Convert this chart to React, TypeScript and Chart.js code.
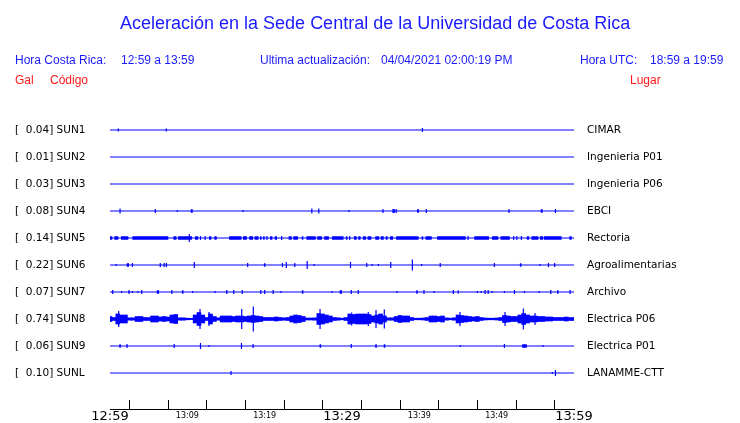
import React, { useEffect, useRef } from "react";
import { Chart, registerables } from "chart.js";

Chart.register(...registerables);

// ---------- data ----------
const STATION_CODES = ["SUN1", "SUN2", "SUN3", "SUN4", "SUN5", "SUN6", "SUN7", "SUN8", "SUN9", "SUNL"];
const PEAK_GAL = [0.04, 0.01, 0.03, 0.08, 0.14, 0.22, 0.07, 0.74, 0.06, 0.1];
const STATION_PLACES = [
  "CIMAR",
  "Ingenieria P01",
  "Ingenieria P06",
  "EBCI",
  "Rectoria",
  "Agroalimentarias",
  "Archivo",
  "Electrica P06",
  "Electrica P01",
  "LANAMME-CTT",
];

// minutes after 12:59
const MINUTE_TICKS = [0, 5, 10, 15, 20, 25, 30, 35, 40, 45, 50, 55, 60];
const MINUTE_TICK_LABELS = ["12:59", "", "13:09", "", "13:19", "", "13:29", "", "13:39", "", "13:49", "", "13:59"];
const MAJOR_TICK_LABELS = ["12:59", "13:29", "13:59"];

// amplitudes are expressed in 1/27 of the spacing between traces
const TRACK_UNITS = 27;

// spikes: [minute, amplitude]
const SPIKES_SUN1 = [[1.07, 1.5], [7.28, 1.5], [40.4, 2]];
const SPIKES_SUN2: number[][] = [];
const SPIKES_SUN3: number[][] = [];
const SPIKES_SUN4 = [
  [1.3, 2.5], [5.86, 2], [8.7, 1], [17.2, 1], [26.1, 2.5], [27.0, 2.5], [30.9, 1], [35.3, 2],
  [36.6, 2], [36.75, 2], [37.0, 2], [40.9, 2], [51.6, 2], [57.6, 2],
];
const SPIKES_SUN5 = [
  [10.25, 4], [11.7, 2], [12.3, 2], [20.3, 2], [22.2, 2], [31.0, 2], [46.3, 2], [52.2, 2], [52.6, 2], [53.2, 2],
];
const SPIKES_SUN6 = [
  [0.8, 1], [2.9, 2], [6.5, 2], [7.0, 2], [7.3, 2], [10.9, 3], [17.8, 2], [22.3, 2], [22.8, 3], [23.9, 2],
  [25.5, 4], [26.4, 1], [31.1, 3], [33.2, 2], [33.9, 1], [34.7, 1], [36.3, 3], [39.1, 5.5], [40.3, 1],
  [42.7, 2], [49.7, 2], [55.6, 1], [56.7, 2], [57.5, 2],
];
const SPIKES_SUN7 = [
  [0.35, 2], [1.5, 1], [2.9, 1], [3.6, 1], [4.1, 2], [8.0, 2], [10.7, 1], [13.6, 1], [16.0, 2], [17.1, 2],
  [19.5, 2], [20.0, 2], [21.1, 2], [22.1, 1], [28.7, 1], [31.2, 2], [32.1, 2], [37.1, 1], [40.6, 2], [41.9, 1],
  [44.4, 2], [47.5, 1], [48.0, 1], [48.5, 2], [48.9, 2], [49.4, 1], [51.0, 1], [52.3, 2], [53.6, 1], [55.5, 1],
  [57.0, 2], [59.5, 2],
];
const SPIKES_SUN8 = [
  [1.12, 8], [11.64, 10], [12.8, 7], [17.03, 10], [18.53, 12.5], [27.16, 10], [31.25, 6.5], [33.4, 7],
  [34.4, 9], [35.47, 9.5], [45.26, 7], [51.08, 7], [53.45, 10.5], [54.96, 6],
];
const SPIKES_SUN9 = [
  [2.2, 2], [8.3, 2], [11.7, 3], [12.8, 1], [17.0, 3], [18.5, 2], [31.2, 2], [45.3, 1], [51.0, 2], [56.0, 1],
];
const SPIKES_SUNL = [[15.65, 2], [57.2, 1], [57.6, 3]];

// blocks of continuous small shaking: [start minute, end minute]
const BLOCKS_SUN1: number[][] = [];
const BLOCKS_SUN2: number[][] = [];
const BLOCKS_SUN3: number[][] = [];
const BLOCKS_SUN4 = [[10.45, 10.7], [39.7, 39.95], [55.7, 55.95]];
const BLOCKS_SUN5 = [
  [0, 0.3], [0.56, 1.08], [1.42, 2.37], [2.89, 7.54], [8.2, 8.6], [8.8, 10.6], [11.0, 11.4], [12.8, 13.1],
  [13.5, 13.8], [15.4, 17.0], [17.2, 17.7], [18.0, 18.5], [18.7, 19.2], [19.4, 19.6], [19.8, 20.0],
  [20.7, 21.0], [21.3, 21.6], [23.1, 23.5], [23.7, 24.3], [24.8, 25.0], [25.4, 26.6], [26.8, 27.4],
  [27.7, 28.3], [28.7, 30.2], [30.5, 30.7], [31.55, 31.9], [32.1, 32.4], [32.7, 33.1], [33.3, 33.8],
  [34.3, 34.8], [35.0, 35.4], [35.65, 35.9], [36.2, 36.6], [37.0, 39.9], [40.3, 40.5], [40.8, 41.6],
  [42.3, 46.0], [47.1, 49.0], [49.4, 50.2], [50.5, 51.7], [53.9, 54.2], [54.5, 55.4], [55.6, 56.0],
  [56.1, 58.4], [59.4, 59.7],
];
const BLOCKS_SUN6 = [[2.16, 2.46], [19.9, 20.1], [53.0, 53.2]];
const BLOCKS_SUN7 = [
  [2.36, 2.56], [6.05, 6.35], [9.3, 9.5], [15.0, 15.2], [24.8, 25.0], [29.7, 30.0], [39.6, 39.8],
  [44.95, 45.1], [57.8, 58.0],
];
const BLOCKS_SUN8: number[][] = [];
const BLOCKS_SUN9 = [[1.2, 1.4], [27.1, 27.3], [34.3, 34.5], [35.4, 35.6], [53.3, 53.9]];
const BLOCKS_SUNL: number[][] = [];

// SUN8 envelope, one value every half minute from 12:59 to 13:59
const SUN8_ENVELOPE_STEP = 0.5;
const SUN8_ENVELOPE = [
  2.5, 1.5, 5, 4, 4, 1.2, 1.2, 2.5, 2.5, 1.5,
  1.5, 3, 3, 2, 2.5, 2, 4, 4.5, 1.2, 1.2,
  0.8, 0.6, 4, 6.5, 4, 1.5, 5, 2.5, 1.2, 3,
  3, 3, 2.5, 3, 3, 2.5, 3, 3.5, 3, 2.5,
  1.5, 1.5, 1.5, 2, 1.5, 1.2, 1.5, 3, 4, 3.5,
  2.5, 1, 1, 1.2, 5.5, 5, 4, 3, 1.5, 1.2,
  0.8, 1.5, 5, 4.5, 5, 5, 5, 4.5, 3, 4,
  5, 3, 1.2, 1.2, 2.5, 3.5, 3, 3, 1.5, 0.8,
  0.8, 1, 1.5, 3, 3, 2.5, 3, 1.2, 0.8, 1.2,
  4, 3.5, 3, 2.5, 2, 2.5, 1.5, 1, 0.8, 0.8,
  1, 1.5, 3.5, 3, 2.5, 2.5, 4, 5.5, 4, 3,
  3, 2.5, 2.5, 2, 2, 1.5, 1.5, 1.5, 2, 1.5,
  1.5,
];
const SUN8_INDEX = 7;

const STATION_SPIKES = [
  SPIKES_SUN1, SPIKES_SUN2, SPIKES_SUN3, SPIKES_SUN4, SPIKES_SUN5,
  SPIKES_SUN6, SPIKES_SUN7, SPIKES_SUN8, SPIKES_SUN9, SPIKES_SUNL,
];
const STATION_BLOCKS = [
  BLOCKS_SUN1, BLOCKS_SUN2, BLOCKS_SUN3, BLOCKS_SUN4, BLOCKS_SUN5,
  BLOCKS_SUN6, BLOCKS_SUN7, BLOCKS_SUN8, BLOCKS_SUN9, BLOCKS_SUNL,
];

// ---------- styles ----------
const BLUE = "#0000ff";
const TEXT_BLUE = "#1a1aff";
const RED = "#ff1a1a";
const SANS = "'Liberation Sans', Arial, sans-serif";
const LABEL_FONT = "'DejaVu Sans', sans-serif";

function buildDatasets(): any[] {
  const amp = (a: number) => a / TRACK_UNITS;
  const lineBase = {
    type: "line",
    borderColor: BLUE,
    pointRadius: 0,
    tension: 0,
    fill: false,
    spanGaps: false,
    yAxisID: "y",
  };
  const ds: any[] = [];
  STATION_CODES.forEach((_, i) => {
    ds.push({ ...lineBase, borderWidth: 1.2, data: [{ x: 0, y: i }, { x: 60, y: i }] });
    const blocks = STATION_BLOCKS[i];
    if (blocks.length) {
      ds.push({
        ...lineBase,
        borderWidth: 3.5,
        borderCapStyle: "butt",
        data: blocks.flatMap(([a, b]) => [{ x: a, y: i }, { x: b, y: i }, { x: b, y: null }]),
      });
    }
    const spikes = STATION_SPIKES[i];
    if (spikes.length) {
      ds.push({
        ...lineBase,
        borderWidth: 1.2,
        borderCapStyle: "butt",
        data: spikes.flatMap(([t, a]) => [
          { x: t, y: i - amp(a) },
          { x: t, y: i + amp(a) },
          { x: t, y: null },
        ]),
      });
    }
  });
  ds.push({
    type: "bar",
    yAxisID: "y",
    backgroundColor: BLUE,
    borderWidth: 0,
    barPercentage: 1,
    categoryPercentage: 1,
    grouped: false,
    data: SUN8_ENVELOPE.map((a, k) => ({
      x: k * SUN8_ENVELOPE_STEP,
      y: [SUN8_INDEX - amp(a), SUN8_INDEX + amp(a)],
    })),
  });
  return ds;
}

export default function App() {
  const canvasRef = useRef<HTMLCanvasElement | null>(null);

  useEffect(() => {
    if (!canvasRef.current) return;
    const trackScale = (position: "left" | "right", gap: number) => ({
      type: "linear",
      position,
      reverse: true,
      min: -1,
      max: 10 + 1 / 3,
      afterBuildTicks: (s: any) => {
        s.ticks = STATION_CODES.map((_, i) => ({ value: i }));
      },
      grid: {
        display: true,
        color: "rgba(0,0,0,0)",
        drawOnChartArea: false,
        drawTicks: true,
        tickLength: gap,
      },
      border: { display: false },
    });
    const chart = new Chart(canvasRef.current, {
      type: "line",
      data: { datasets: buildDatasets() },
      options: {
        responsive: false,
        animation: false,
        events: [],
        layout: { padding: { left: 15, top: 103, right: 0, bottom: 0 } },
        plugins: {
          legend: { display: false },
          tooltip: { enabled: false },
          title: { display: false },
        },
        scales: {
          x: {
            type: "linear",
            position: "bottom",
            min: 0,
            max: 60,
            offset: false,
            afterBuildTicks: (s: any) => {
              s.ticks = MINUTE_TICKS.map((v) => ({ value: v }));
            },
            afterFit: (s: any) => {
              s.height = 14;
            },
            grid: { drawOnChartArea: false, drawTicks: true, tickLength: -9, color: "#000", lineWidth: 1 },
            border: { display: true, color: "#000", width: 1 },
            ticks: {
              autoSkip: false,
              maxRotation: 0,
              minRotation: 0,
              padding: 9,
              color: "#000",
              callback: (_v: any, i: number) => MINUTE_TICK_LABELS[i],
              font: (ctx: any) =>
                MAJOR_TICK_LABELS.includes(MINUTE_TICK_LABELS[ctx.index])
                  ? { family: LABEL_FONT, size: 13, lineHeight: "15px" }
                  : { family: LABEL_FONT, size: 8, lineHeight: "14px" },
            },
          } as any,
          y: {
            ...trackScale("left", 0),
            afterFit: (s: any) => {
              s.width = 95;
            },
            ticks: {
              autoSkip: false,
              crossAlign: "far",
              padding: 0,
              color: "#000",
              font: { family: LABEL_FONT, size: 10.5 },
              callback: (_v: any, i: number) => `[  ${PEAK_GAL[i].toFixed(2)}] ${STATION_CODES[i]}`,
            },
          } as any,
          y2: {
            ...trackScale("right", 13),
            afterFit: (s: any) => {
              s.width = 166;
            },
            ticks: {
              autoSkip: false,
              padding: 0,
              color: "#000",
              font: { family: LABEL_FONT, size: 10.5 },
              callback: (_v: any, i: number) => STATION_PLACES[i],
            },
          } as any,
        },
      } as any,
    });
    return () => chart.destroy();
  }, []);

  const txt = (left: number, top: number, size: number, color: string, text: string) => (
    <span
      style={{
        position: "absolute",
        left,
        top,
        fontFamily: SANS,
        fontSize: size,
        lineHeight: `${size}px`,
        color,
        whiteSpace: "nowrap",
      }}
    >
      {text}
    </span>
  );

  return (
    <div style={{ position: "absolute", left: 0, top: 0, width: 740, height: 423, background: "#fff" }}>
      <canvas ref={canvasRef} width={740} height={423} style={{ position: "absolute", left: 0, top: 0 }} />
      {txt(120, 14, 18, TEXT_BLUE, "Aceleración en la Sede Central de la Universidad de Costa Rica")}
      {txt(15, 54, 12, TEXT_BLUE, "Hora Costa Rica:")}
      {txt(121, 54, 12, TEXT_BLUE, "12:59 a 13:59")}
      {txt(260, 54, 12, TEXT_BLUE, "Ultima actualización:")}
      {txt(381, 54, 12, TEXT_BLUE, "04/04/2021 02:00:19 PM")}
      {txt(580, 54, 12, TEXT_BLUE, "Hora UTC:")}
      {txt(650, 54, 12, TEXT_BLUE, "18:59 a 19:59")}
      {txt(15, 74, 12, RED, "Gal")}
      {txt(50, 74, 12, RED, "Código")}
      {txt(630, 74, 12, RED, "Lugar")}
    </div>
  );
}
